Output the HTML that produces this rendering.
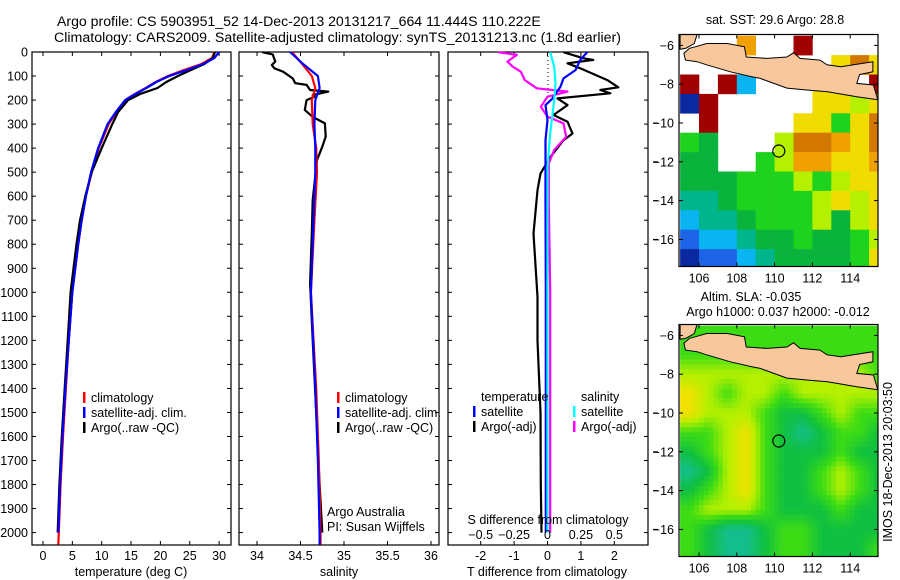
<!DOCTYPE html>
<html><head><meta charset="utf-8">
<style>
html,body{margin:0;padding:0;background:#fff;}
svg{display:block;font-family:"Liberation Sans",Arial,sans-serif;font-size:12.5px;}
</style></head>
<body>
<svg id="fig" width="900" height="580" viewBox="0 0 900 580" xmlns="http://www.w3.org/2000/svg">
<rect width="900" height="580" fill="#fff"/>
<text x="57" y="26" font-size="14.1">Argo profile: CS 5903951_52 14-Dec-2013 20131217_664 11.444S 110.222E</text>
<text x="54" y="42" font-size="14.2">Climatology: CARS2009. Satellite-adjusted climatology: synTS_20131213.nc (1.8d earlier)</text>
<g id="p1"></g>
<g id="p2"></g>
<g id="p3"></g>
<g id="m1"></g>
<g id="m2"></g>
<text x="775" y="24" text-anchor="middle">sat. SST: 29.6 Argo: 28.8</text>
<text x="751" y="301" text-anchor="middle">Altim. SLA: -0.035</text>
<text x="778" y="316" text-anchor="middle">Argo h1000: 0.037 h2000: -0.012</text>
<text transform="translate(892,462) rotate(-90)" text-anchor="middle">IMOS 18-Dec-2013 20:03:50</text>
</svg>
<script>
// ---------- profile data ----------
const tDepth   = [0,25,50,75,100,125,150,175,200,250,300,400,500,600,700,800,900,1000,1200,1400,1600,1800,2000,2050];
const tClim    = [29.2,28.8,27,24,21.3,19.2,17.5,15.6,14,12.5,11.2,9.5,8.3,7.3,6.6,6.0,5.5,5.0,4.4,3.9,3.4,3.0,2.7,2.6];
const tSat     = [30,29.2,27.3,24.5,21.5,19.3,17.6,15.7,14,12.4,11.0,9.4,8.2,7.3,6.6,6.0,5.5,5.0,4.4,3.8,3.3,2.9,2.6];
const tArgo    = [29.3,28.9,27.5,25.2,23,21,19.5,16.5,14.5,12.8,11.8,10,8.3,7.2,6.3,5.7,5.2,4.7,4.2,3.7,3.2,2.8,2.5];
const sDepthA  = [1,10,40,54,68,82,110,130,137,158,165,179,186,200,241,270,297,352,394,450,616,755,964,1200,1500,1800,2000];
const sArgo    = [34.06,34.18,34.21,34.17,34.2,34.30,34.41,34.44,34.57,34.61,34.82,34.64,34.66,34.57,34.55,34.64,34.78,34.79,34.75,34.69,34.64,34.63,34.61,34.64,34.68,34.72,34.75];
const sDepthC  = [0,50,100,150,200,300,400,500,700,1000,1400,1700,2000,2050];
const sClim    = [34.40,34.52,34.63,34.67,34.63,34.64,34.68,34.69,34.66,34.62,34.68,34.71,34.73,34.73];
const sSat     = [34.38,34.53,34.70,34.72,34.67,34.66,34.67,34.67,34.65,34.62,34.67,34.70,34.72,34.72];
const dDepthT  = [1,26,33,47,68,117,147,158,172,193,221,262,290,339,367,436,506,575,756,1019,1200,1500,1800,2000];
const dTArgo   = [0.48,1.07,1.37,0.6,0.98,1.79,2.12,1.58,1.88,0.3,0.6,0.18,0.6,0.75,0.48,0.09,-0.21,-0.3,-0.42,-0.3,-0.3,-0.21,-0.2,-0.18];
const dDepthTS = [1,33,75,110,144,193,221,283,367,617,1000,1500,2000];
const dTSat    = [1.19,0.98,0.84,0.48,0.39,0.15,-0.06,0,-0.06,-0.06,-0.05,-0.05,-0.05];
const dDepthS  = [1,12,40,61,82,117,151,165,186,228,269,297,353,408,464,617,1000,1500,2000];
const dSArgo   = [-0.37,-0.23,-0.3,-0.26,-0.2,-0.17,-0.08,0.15,0,-0.05,0,0.12,0.14,0.05,0.01,0.01,0.02,0.02,0.02];
const dDepthSS = [1,61,130,200,339,478,1000,2000];
const dSSat    = [0.02,0.05,0.06,0.05,0.02,0,0,0];
const depthTicks = [0,100,200,300,400,500,600,700,800,900,1000,1100,1200,1300,1400,1500,1600,1700,1800,1900,2000];

// ---------- map data (1 degree cells, rows lat -6..-17, cols lon 105..115) ----------
const sstRows = [
 "...o..r....",
 "........yOy",
 "r.rc...yy.r",
 "br.....yyly",
 ".r....yyGyO",
 "Gg...lOOoyO",
 "gg..Glooyyo",
 "gggGGGlGlyy",
 "ttgGGGGlyly",
 "cttgGGGlgly",
 "BcctggGggGl",
 "bBBctggggGy"];
const sstColors = {b:"#0a28a0",B:"#1e64e6",c:"#0ab4f0",t:"#00b48c",g:"#0ab43c",G:"#1ed21e",l:"#b4f000",y:"#f0dc00",o:"#f0a000",O:"#d27800",r:"#a00000"};
const slaRows = [
 [2,2,2,2,2,2,2,2,2,2,2],
 [2,2,2,2,2,2,2,2,2,2,2],
 [3,3,3,3,3,3,3,3,3,3,2],
 [4,3,2,3,3,2,3,3,3,3,3],
 [4,3,3,3,2,1,1,2,3,2,2],
 [2,2,3,4,2,1,0,1,2,2,1],
 [1,2,3,4,2,1,1,1,2,1,1],
 [0,1,3,4,2,1,1,2,3,2,1],
 [1,2,3,4,2,1,1,2,3,2,1],
 [2,3,3,3,2,1,1,1,2,1,1],
 [2,1,0,0,1,2,2,1,1,1,1],
 [2,1,0,0,1,2,2,1,1,1,2]];
const slaPalette = [[20,190,140],[16,192,64],[60,220,20],[180,240,0],[240,225,0]];
const javaCoast = [[105.5,-6.15],[105.8,-6.07],[106.4,-5.9],[107.5,-5.9],[108.4,-6.07],[108.5,-6.6],[109.6,-6.67],[110.65,-6.6],[111.0,-6.38],[111.35,-6.67],[112.4,-6.76],[112.77,-7.0],[113.5,-7.1],[115.2,-6.84],[115.2,-7.36],[114.5,-7.5],[114.35,-7.96],[115.23,-8.04],[115.46,-8.8],[114.35,-8.65],[112.8,-8.39],[111.7,-8.3],[110.65,-8.2],[109.24,-7.7],[108.7,-7.6],[107.66,-7.36],[106.4,-7.0],[105.9,-6.84],[105.28,-6.76],[105.2,-6.4]];
const sumatraCoast = [[105,-5.43],[105.9,-5.43],[105.75,-5.9],[105.3,-6.15],[105,-6.2]];
const argoPos = [110.222,-11.444];

const NS="http://www.w3.org/2000/svg";
function mk(parent,tag,attrs,txt){const e=document.createElementNS(NS,tag);for(const k in attrs)e.setAttribute(k,attrs[k]);if(txt!==undefined)e.textContent=txt;parent.appendChild(e);return e;}

const yTop=52, yBot=545;
const yD = d => yTop + d*0.2403;

function panel(g,x0,x1,xs,ticks,fmt,label,labelX){
  const box=mk(g,'rect',{x:x0,y:yTop,width:x1-x0,height:yBot-yTop,fill:'none',stroke:'#000','stroke-width':1.2});
  
  
  depthTicks.forEach(d=>{const y=yD(d);
    mk(g,'line',{x1:x0,x2:x0+4,y1:y,y2:y,stroke:'#000'});
    mk(g,'line',{x1:x1-4,x2:x1,y1:y,y2:y,stroke:'#000'});});
  ticks.forEach(t=>{const x=xs(t);
    mk(g,'line',{x1:x,x2:x,y1:yBot,y2:yBot-4,stroke:'#000'});
    mk(g,'line',{x1:x,x2:x,y1:yTop,y2:yTop+4,stroke:'#000'});
    const tl=mk(g,'text',{x:x,y:560,'text-anchor':'middle'},fmt(t));
    
    });
  const lab=mk(g,'text',{x:labelX,y:576,'text-anchor':'middle'},label);
  
  
}
function line(g,xs,depths,vals,color,w,name){
  const pts=vals.map((v,i)=>xs(v).toFixed(1)+','+yD(depths[i]).toFixed(1)).join(' ');
  const p=mk(g,'polyline',{points:pts,fill:'none',stroke:color,'stroke-width':w,'stroke-linejoin':'round'});
  
  
}
function legend(g,x,y,items){
  items.forEach((it,i)=>{
    mk(g,'rect',{x:x,y:y+i*15-10,width:2.5,height:11,fill:it[0]});
    const t=mk(g,'text',{x:x+8,y:y+i*15},it[1]);
    
    
  });
}

// Panel 1: temperature
const p1=document.getElementById('p1');
const xT = v => 43 + v*5.87;
panel(p1,32,231,xT,[0,5,10,15,20,25,30],String,'temperature (deg C)',131);
depthTicks.forEach(d=>{const t=mk(p1,'text',{x:28,y:yD(d)+4.5,'text-anchor':'end'},String(d));
  
  });
line(p1,xT,tDepth,tClim,'#f00',2.2,'temperature-climatology-line');
line(p1,xT,tDepth.slice(0,tSat.length),tSat,'#00f',2.2,'temperature-satellite-line');
line(p1,xT,tDepth.slice(0,tArgo.length),tArgo,'#000',2.2,'temperature-argo-line');
line(p1,xT,tDepth.slice(0,tSat.length),tSat,'#00f',2,'temperature-satellite-line-top');
legend(p1,83,402,[['#f00','climatology'],['#00f','satellite-adj. clim.'],['#000','Argo(..raw -QC)']]);

// Panel 2: salinity
const p2=document.getElementById('p2');
const xS = v => 257 + (v-34)*87;
panel(p2,239,439,xS,[34,34.5,35,35.5,36],String,'salinity',339);
line(p2,xS,sDepthA,sArgo,'#000',2.2,'salinity-argo-line');
line(p2,xS,sDepthC,sClim,'#f00',2.2,'salinity-climatology-line');
line(p2,xS,sDepthC.slice(0,sSat.length),sSat,'#00f',2.2,'salinity-satellite-line');
legend(p2,337,402,[['#f00','climatology'],['#00f','satellite-adj. clim.'],['#000','Argo(..raw -QC)']]);
const aa=mk(p2,'text',{x:327,y:516},'Argo Australia');


const pi=mk(p2,'text',{x:327,y:531},'PI: Susan Wijffels');



// Panel 3: differences
const p3=document.getElementById('p3');
const xDT = v => 547.5 + v*33.4;
const xDS = v => 547.5 + v*133.6;
panel(p3,448,648,xDT,[-2,-1,0,1,2],String,'T difference from climatology',547);
mk(p3,'line',{x1:548,x2:548,y1:yTop,y2:yTop+46,stroke:'#000','stroke-dasharray':'1,3'});
line(p3,xDT,dDepthT,dTArgo,'#000',2.2,'t-diff-argo-line');
line(p3,xDS,dDepthS,dSArgo,'#f0f',2.2,'s-diff-argo-line');
line(p3,xDT,dDepthTS,dTSat,'#00f',2.2,'t-diff-satellite-line');
line(p3,xDS,dDepthSS,dSSat,'#0ff',2.2,'s-diff-satellite-line');
[-0.5,-0.25,0,0.25,0.5].forEach(v=>{const t=mk(p3,'text',{x:xDS(v),y:539,'text-anchor':'middle'},String(v).replace('-','\u2212'));
  
  });
const sl=mk(p3,'text',{x:548,y:524,'text-anchor':'middle'},'S difference from climatology');


const th=mk(p3,'text',{x:481,y:401},'temperature');


const sh=mk(p3,'text',{x:581,y:401},'salinity');


legend(p3,473,416,[['#00f','satellite'],['#000','Argo(-adj)']]);
legend(p3,573,416,[['#0ff','satellite'],['#f0f','Argo(-adj)']]);

// Maps
const mx0=679, mx1=878;
const lonX = lon => 699 + (lon-106)*18.9;
function map(g,top,drawCells){
  const latY = lat => top + 10.9 + (-6-lat)*19.4;
  const bot = top + 232;
  const clip='clip'+Math.round(top);
  const defs=mk(g,'defs',{});
  const cp=mk(defs,'clipPath',{id:clip});
  mk(cp,'rect',{x:mx0,y:top,width:mx1-mx0,height:bot-top});
  const inner=mk(g,'g',{'clip-path':'url(#'+clip+')'});
  drawCells(inner,latY);
  [javaCoast,sumatraCoast].forEach(c=>{
    const p=mk(inner,'polygon',{points:c.map(q=>lonX(q[0]).toFixed(1)+','+latY(q[1]).toFixed(1)).join(' '),fill:'#f8c89c',stroke:'#000','stroke-width':1});
    
    
  });
  const c=mk(inner,'circle',{cx:lonX(argoPos[0]),cy:latY(argoPos[1]),r:6,fill:'none',stroke:'#000','stroke-width':1.2});
  
  
  mk(g,'rect',{x:mx0,y:top,width:mx1-mx0,height:bot-top,fill:'none',stroke:'#000','stroke-width':1.2});
  [106,108,110,112,114].forEach(l=>{const x=lonX(l);
    mk(g,'line',{x1:x,x2:x,y1:top,y2:top+4,stroke:'#000'});
    mk(g,'line',{x1:x,x2:x,y1:bot,y2:bot-4,stroke:'#000'});
    const t=mk(g,'text',{x:x,y:bot+16,'text-anchor':'middle'},String(l));
    
    });
  [-6,-8,-10,-12,-14,-16].forEach(l=>{const y=latY(l);
    mk(g,'line',{x1:mx0,x2:mx0+4,y1:y,y2:y,stroke:'#000'});
    mk(g,'line',{x1:mx1-4,x2:mx1,y1:y,y2:y,stroke:'#000'});
    if(l<=-10) mk(g,'line',{x1:653,x2:658,y1:y,y2:y,stroke:'#000'});
    const t=mk(g,'text',{x:674,y:y+4.5,'text-anchor':'end'},String(l).replace('-','\u2212'));
    
    });
}
map(document.getElementById('m1'),34.5,(g,latY)=>{
  sstRows.forEach((row,r)=>{
    for(let c=0;c<row.length;c++){const ch=row[c]; if(ch==='.') continue;
      const lon=105+c, lat=-5.5-r;
      const cell=mk(g,'rect',{x:lonX(lon),y:latY(lat),width:19.2,height:19.7,fill:sstColors[ch]});
      
      
    }
  });
});
map(document.getElementById('m2'),324.5,(g,latY)=>{
  const nR=slaRows.length,nC=slaRows[0].length;
  const val=(r,c)=>slaRows[Math.max(0,Math.min(nR-1,r))][Math.max(0,Math.min(nC-1,c))];
  for(let lat=-5.5;lat>-17.5;lat-=0.25){
    for(let lon=105;lon<115.5;lon+=0.25){
      const fr=(-6-(lat-0.125)), fc=(lon+0.125-105.5);
      const r0=Math.floor(fr), c0=Math.floor(fc), ar=fr-r0, ac=fc-c0;
      const v=val(r0,c0)*(1-ar)*(1-ac)+val(r0+1,c0)*ar*(1-ac)+val(r0,c0+1)*(1-ar)*ac+val(r0+1,c0+1)*ar*ac;
      const i=Math.min(3,Math.floor(v)), f=v-i;
      const a=slaPalette[i], b=slaPalette[Math.min(4,i+1)];
      const col='rgb('+a.map((x,k)=>Math.round(x+(b[k]-x)*f)).join(',')+')';
      const cell=mk(g,'rect',{x:lonX(lon).toFixed(1),y:latY(lat).toFixed(1),width:5.2,height:5.4,fill:col});
      
      
    }
  }
});
</script>
</body></html>
